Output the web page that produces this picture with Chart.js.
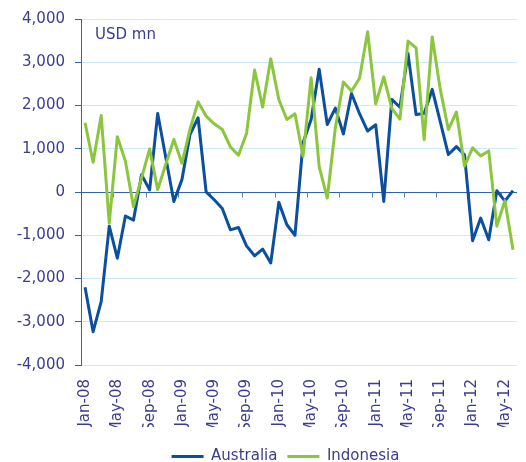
<!DOCTYPE html>
<html>
<head>
<meta charset="utf-8">
<title>Australia vs Indonesia, USD mn</title>
<script src="https://cdn.jsdelivr.net/npm/chart.js"></script>
<style>
  html, body { margin: 0; padding: 0; background: #fff; }
  #wrap { position: relative; width: 526px; height: 462px; }
</style>
</head>
<body>
<div id="wrap"><canvas id="myChart"></canvas></div>
<script>
// meses (categorias)
var months = [
  'Jan-08','Feb-08','Mar-08','Apr-08','May-08','Jun-08','Jul-08','Aug-08','Sep-08','Oct-08','Nov-08','Dec-08',
  'Jan-09','Feb-09','Mar-09','Apr-09','May-09','Jun-09','Jul-09','Aug-09','Sep-09','Oct-09','Nov-09','Dec-09',
  'Jan-10','Feb-10','Mar-10','Apr-10','May-10','Jun-10','Jul-10','Aug-10','Sep-10','Oct-10','Nov-10','Dec-10',
  'Jan-11','Feb-11','Mar-11','Apr-11','May-11','Jun-11','Jul-11','Aug-11','Sep-11','Oct-11','Nov-11','Dec-11',
  'Jan-12','Feb-12','Mar-12','Apr-12','May-12','Jun-12'
];

// USD mn
var australia = [
  -2200, -3230, -2535, -790, -1530, -555, -650, 400, 50, 1816, 800, -220,
  286, 1330, 1717, 0, -180, -380, -875, -820, -1245, -1475, -1320, -1640,
  -240, -758, -1000, 1137, 1677, 2837, 1561, 1940, 1340, 2276, 1810, 1410,
  1555, -218, 2140, 1960, 3200, 1790, 1815, 2372, 1620, 866, 1050, 860,
  -1125, -603, -1105, 30, -210, 30
];
var indonesia = [
  1600, 688, 1770, -720, 1280, 711, -340, 325, 997, 55, 640, 1215,
  665, 1450, 2085, 1754, 1577, 1445, 1043, 850, 1352, 2820, 1963, 3083,
  2140, 1677, 1808, 827, 2643, 585, -139, 1484, 2545, 2334, 2630, 3705,
  2040, 2662, 1935, 1685, 3490, 3330, 1213, 3586, 2372, 1445, 1850, 600,
  1020, 835, 950, -790, -198, -1335
];

var textColor = '#3c3c8e';
var axisBlue = '#2f63b0';
var gridBlue = '#cbeaf7';
var ausBlue = '#0c4f9f';
var indGreen = '#8cc63f';

Chart.defaults.font.family = "'DejaVu Sans', sans-serif";

function fmt(v) {
  return String(v).replace(/\B(?=(\d{3})+(?!\d))/g, ',');
}

// marcas sobre el eje cero, texto "USD mn" y leyenda desplazada
var extras = {
  id: 'extras',
  afterLayout: function(chart) {
    var lg = chart.legend;
    lg.left += 27; lg.right += 27;
    lg.top += 12; lg.bottom += 12;
  },
  beforeDatasetsDraw: function(chart) {
    var ctx = chart.ctx, x = chart.scales.x, y = chart.scales.y;
    var y0 = Math.round(y.getPixelForValue(0)) + 0.5;
    ctx.save();
    ctx.strokeStyle = '#5b82c4';
    ctx.lineWidth = 1;
    for (var i = 4; i < months.length; i += 4) {
      var px = Math.round((x.getPixelForValue(i - 1) + x.getPixelForValue(i)) / 2) + 0.5;
      ctx.beginPath();
      ctx.moveTo(px, y0);
      ctx.lineTo(px, y0 + 5);
      ctx.stroke();
    }
    ctx.restore();
  },
  afterDraw: function(chart) {
    var ctx = chart.ctx;
    ctx.save();
    ctx.fillStyle = textColor;
    ctx.font = "15px 'DejaVu Sans', sans-serif";
    ctx.textBaseline = 'middle';
    ctx.textAlign = 'left';
    ctx.fillText('USD mn', chart.chartArea.left + 14, chart.chartArea.top + 16);
    ctx.restore();
  }
};

var ctx = document.getElementById('myChart').getContext('2d');
var myChart = new Chart(ctx, {
  type: 'line',
  data: {
    labels: months,
    datasets: [{
      label: 'Australia',
      data: australia,
      borderColor: ausBlue,
      backgroundColor: ausBlue,
      borderWidth: 3,
      pointRadius: 0,
      tension: 0,
      borderJoinStyle: 'round',
      order: 2
    }, {
      label: 'Indonesia',
      data: indonesia,
      borderColor: indGreen,
      backgroundColor: indGreen,
      borderWidth: 3,
      pointRadius: 0,
      tension: 0,
      borderJoinStyle: 'round',
      order: 1
    }]
  },
  options: {
    responsive: true,
    maintainAspectRatio: false,
    animation: false,
    layout: { padding: { top: 19, right: 9, left: 0, bottom: 0 } },
    plugins: {
      tooltip: { enabled: false },
      legend: {
        position: 'bottom',
        labels: {
          usePointStyle: true,
          pointStyle: 'line',
          pointStyleWidth: 32,
          boxHeight: 3,
          color: textColor,
          font: { size: 15 },
          padding: 10,
          sort: function(a, b) { return a.datasetIndex - b.datasetIndex; }
        }
      }
    },
    scales: {
      x: {
        offset: true,
        grid: { display: false, drawTicks: false },
        border: { display: false },
        ticks: {
          autoSkip: false,
          minRotation: 90,
          maxRotation: 90,
          color: textColor,
          font: { size: 15 },
          padding: 14,
          callback: function(v, i) { return i % 4 === 0 ? months[i] : null; }
        },
        afterFit: function(s) {
          var lh = s.chart.legend ? s.chart.legend.height : 0;
          s.height = s.chart.height - 365 - lh;
          s.paddingLeft = 0;
          s.paddingRight = 0;
        }
      },
      y: {
        min: -4000,
        max: 4000,
        ticks: {
          stepSize: 1000,
          color: textColor,
          font: { size: 15 },
          padding: 10,
          callback: function(v) { return fmt(v); }
        },
        grid: {
          color: function(c) { return c.tick && c.tick.value === 0 ? axisBlue : gridBlue; },
          tickColor: axisBlue,
          tickLength: 6,
          lineWidth: 1
        },
        border: { color: axisBlue, width: 1 },
        afterFit: function(s) { s.width = 81; }
      }
    }
  },
  plugins: [extras]
});
</script>
</body>
</html>
